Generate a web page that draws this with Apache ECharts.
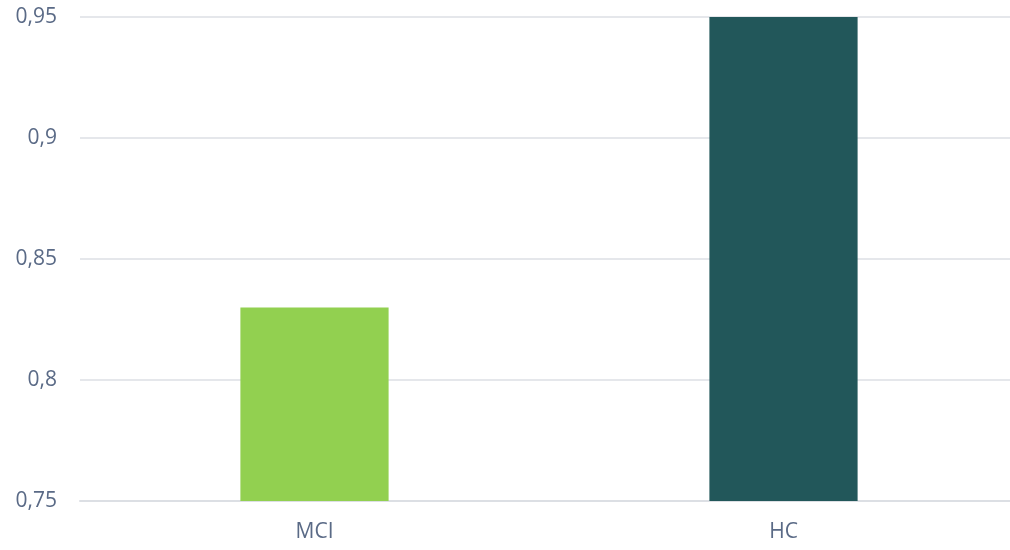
<!DOCTYPE html>
<html>
<head>
<meta charset="utf-8">
<script src="https://cdn.jsdelivr.net/npm/echarts@6/dist/echarts.min.js"></script>
<style>
  html, body { margin: 0; padding: 0; background: #ffffff; overflow: hidden; }
  #chart { width: 1010px; height: 550px; }
</style>
</head>
<body>
<div id="chart"></div>
<script>
// Group categories and their scores
const categories = ['MCI', 'HC'];
const scores = [0.83, 0.95];
const barColors = ['#92d050', '#22575a'];
const yTicks = { min: 0.75, max: 0.95, step: 0.05 };

const chart = echarts.init(document.getElementById('chart'));
const labelColor = '#5a6a86';
const gridColor = '#dcdfe4';

chart.setOption({
  animation: false,
  grid: {
    left: 80, width: 938, top: 17, bottom: 49,
    containLabel: false,
    outerBoundsMode: 'none'
  },
  xAxis: {
    type: 'category',
    data: categories,
    axisLine: { show: true, lineStyle: { color: gridColor, width: 2 } },
    axisTick: { show: false },
    axisLabel: {
      color: labelColor,
      fontFamily: 'Open Sans',
      fontSize: 21,
      margin: 21
    }
  },
  yAxis: {
    type: 'value',
    min: yTicks.min,
    max: yTicks.max,
    interval: yTicks.step,
    axisLine: { show: false },
    axisTick: { show: false },
    splitLine: { lineStyle: { color: gridColor, width: 1.5 } },
    axisLabel: {
      color: labelColor,
      fontFamily: 'Open Sans',
      fontSize: 21,
      margin: 23,
      formatter: v => v.toFixed(2).replace(/0$/, '').replace('.', ',')
    }
  },
  series: [{
    type: 'bar',
    barWidth: '31.6%',
    data: scores.map((v, i) => ({ value: v, itemStyle: { color: barColors[i] } }))
  }]
});
</script>
</body>
</html>
